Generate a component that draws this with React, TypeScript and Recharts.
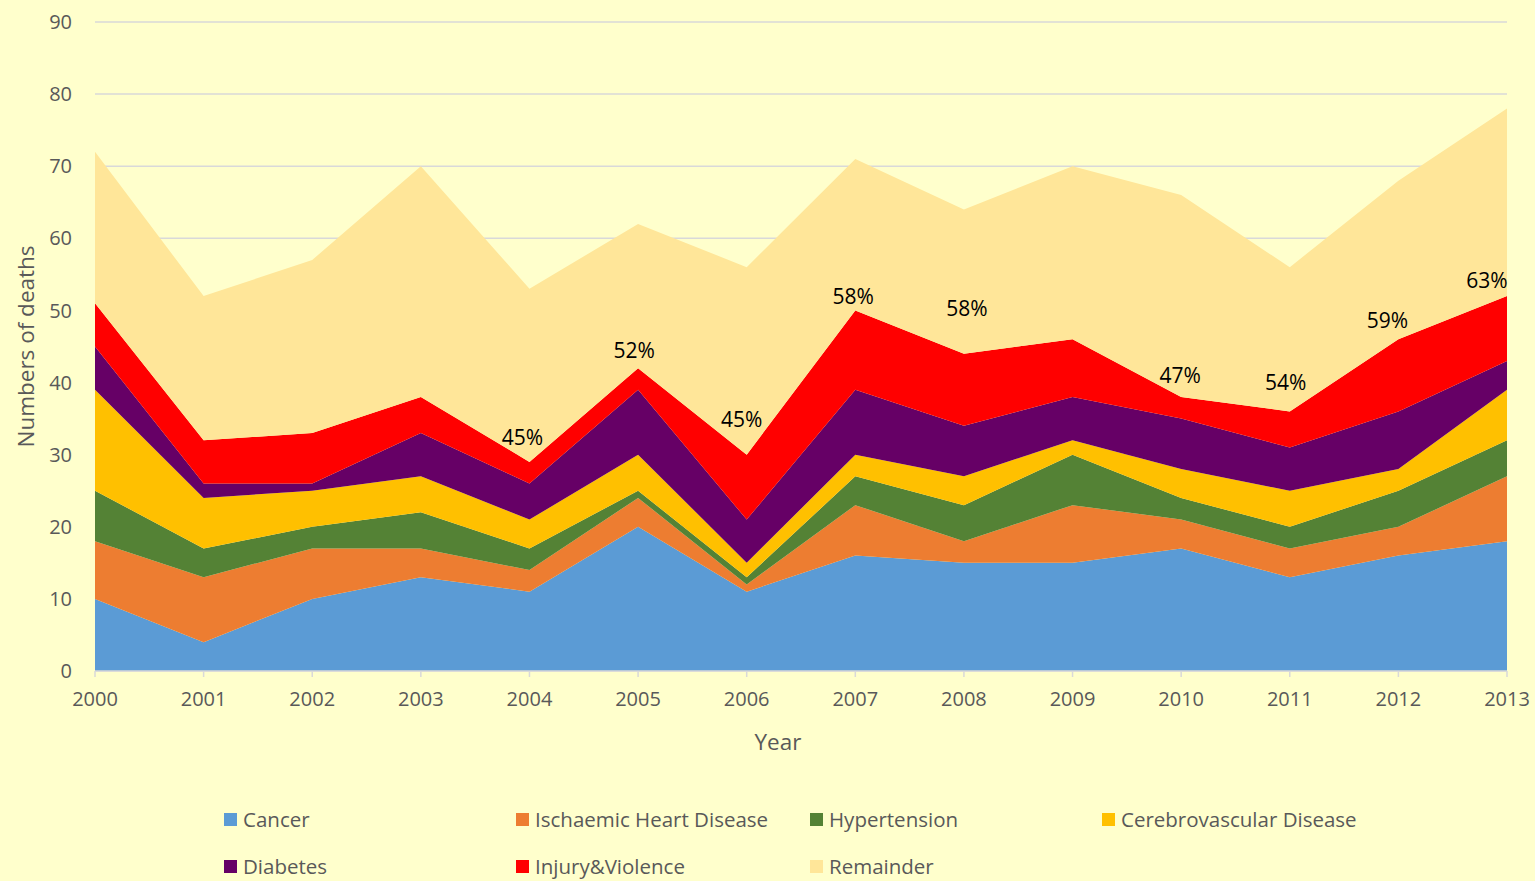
import { AreaChart, Area, XAxis, YAxis, CartesianGrid, Legend, LabelList, Label } from 'recharts';

const years = ['2000', '2001', '2002', '2003', '2004', '2005', '2006', '2007', '2008', '2009', '2010', '2011', '2012', '2013'];
const cancer = [10, 4, 10, 13, 11, 20, 11, 16, 15, 15, 17, 13, 16, 18];
const ischaemic = [8, 9, 7, 4, 3, 4, 1, 7, 3, 8, 4, 4, 4, 9];
const hypertension = [7, 4, 3, 5, 3, 1, 1, 4, 5, 7, 3, 3, 5, 5];
const cerebrovascular = [14, 7, 5, 5, 4, 5, 2, 3, 4, 2, 4, 5, 3, 7];
const diabetes = [6, 2, 1, 6, 5, 9, 6, 9, 7, 6, 7, 6, 8, 4];
const injury = [6, 6, 7, 5, 3, 3, 9, 11, 10, 8, 3, 5, 10, 9];
const remainder = [21, 20, 24, 32, 24, 20, 26, 21, 20, 24, 28, 20, 22, 26];
const shareLabels = ['', '', '', '', '45%', '52%', '45%', '58%', '58%', '', '47%', '54%', '59%', '63%'];
const yTicks = [0, 10, 20, 30, 40, 50, 60, 70, 80, 90];

const series = [
  { key: 'cancer', name: 'Cancer', color: '#5B9BD5' },
  { key: 'ischaemic', name: 'Ischaemic Heart Disease', color: '#ED7D31' },
  { key: 'hypertension', name: 'Hypertension', color: '#548235' },
  { key: 'cerebrovascular', name: 'Cerebrovascular Disease', color: '#FFC000' },
  { key: 'diabetes', name: 'Diabetes', color: '#660066' },
  { key: 'injury', name: 'Injury&Violence', color: '#FF0000' },
  { key: 'remainder', name: 'Remainder', color: '#FFE699' },
];

const data = years.map((year, i) => ({
  year,
  cancer: cancer[i],
  ischaemic: ischaemic[i],
  hypertension: hypertension[i],
  cerebrovascular: cerebrovascular[i],
  diabetes: diabetes[i],
  injury: injury[i],
  remainder: remainder[i],
  share: shareLabels[i],
}));

// label nudges (Excel labels were dragged by hand)
const shareNudge: Record<string, [number, number]> = {
  '2004': [-7, -25],
  '2005': [-4, -18],
  '2006': [-5, -36],
  '2007': [-2, -14],
  '2008': [3, -46],
  '2010': [-1, -22],
  '2011': [-4, -29],
  '2012': [-11, -19],
  '2013': [-20, -16],
};

const font = '"Open Sans", sans-serif';
const grey = '#595959';

function ShareLabel(props: any) {
  const { x, y, value, index } = props;
  if (!value) return null;
  const [dx, dy] = shareNudge[years[index]] || [0, -20];
  return (
    <text x={x + dx} y={y + dy} textAnchor="middle" dominantBaseline="central" fontSize={21} fontFamily={font} fill="#000">
      {value}
    </text>
  );
}

function LegendBox() {
  const cols = [224, 516, 810, 1102];
  return (
    <div style={{ position: 'relative', width: 1535, height: 110, fontFamily: font, fontSize: 20.5, color: grey }}>
      {series.map((s, i) => (
        <div
          key={s.key}
          style={{
            position: 'absolute',
            left: cols[i % 4],
            top: i < 4 ? 35 : 82,
            height: 26,
            display: 'flex',
            alignItems: 'center',
            whiteSpace: 'nowrap',
          }}
        >
          <span style={{ display: 'inline-block', width: 13, height: 13, background: s.color, marginRight: 6 }} />
          {s.name}
        </div>
      ))}
    </div>
  );
}

export default function App() {
  return (
    <div style={{ position: 'absolute', left: 0, top: 0, width: 1535, height: 881, background: '#FFFFCC' }}>
      <AreaChart width={1535} height={881} data={data} margin={{ top: 22, right: 28, left: 0, bottom: 0 }}>
        <CartesianGrid vertical={false} stroke="#D9D9D9" strokeWidth={1.5} />
        <XAxis
          dataKey="year"
          height={100}
          axisLine={{ stroke: '#D9D9D9', strokeWidth: 1.5 }}
          tickLine={{ stroke: '#D9D9D9', strokeWidth: 1.5 }}
          tickSize={6}
          tickMargin={15}
          tick={{ fontSize: 20, fontFamily: font, fill: grey }}
          interval={0}
        >
          <Label
            content={(p: any) => {
              const vb = p.viewBox;
              return (
                <text x={vb.x + vb.width / 2 - 23} y={vb.y + 70} textAnchor="middle" dominantBaseline="central" fontSize={22.5} fontFamily={font} fill={grey}>
                  Year
                </text>
              );
            }}
          />
        </XAxis>
        <YAxis
          width={95}
          domain={[0, 90]}
          ticks={yTicks}
          axisLine={false}
          tickLine={false}
          tickSize={0}
          tickMargin={23}
          tick={{ fontSize: 20, fontFamily: font, fill: grey }}
        >
          <Label
            content={(p: any) => {
              const vb = p.viewBox;
              const cy = vb.y + vb.height / 2;
              return (
                <text x={25} y={cy} transform={`rotate(-90 25 ${cy})`} textAnchor="middle" dominantBaseline="central" fontSize={22.5} fontFamily={font} fill={grey}>
                  Numbers of deaths
                </text>
              );
            }}
          />
        </YAxis>
        <Legend verticalAlign="bottom" wrapperStyle={{ left: 0, width: 1535 }} content={() => <LegendBox />} />
        {series.map((s) => (
          <Area
            key={s.key}
            type="linear"
            dataKey={s.key}
            name={s.name}
            stackId="deaths"
            stroke="none"
            fill={s.color}
            fillOpacity={1}
            isAnimationActive={false}
          >
            {s.key === 'injury' && <LabelList dataKey="share" content={ShareLabel} />}
          </Area>
        ))}
      </AreaChart>
    </div>
  );
}
